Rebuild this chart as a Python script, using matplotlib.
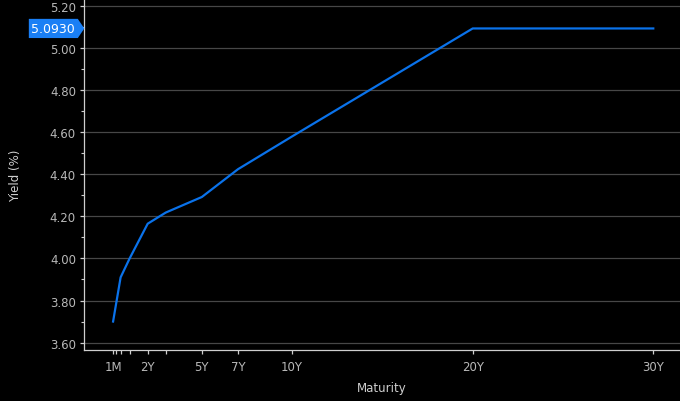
import numpy as np
import matplotlib
matplotlib.use("Agg")
import matplotlib.pyplot as plt
from matplotlib.patches import Polygon
from matplotlib.transforms import ScaledTranslation
from matplotlib.ticker import MultipleLocator, FormatStrFormatter

# yield curve points (maturity in years, yield in %)
maturities = [1 / 12, 0.5, 1, 2, 3, 5, 7, 10, 20, 30]
yields = [3.70, 3.91, 4.00, 4.165, 4.218, 4.292, 4.424, 4.58, 5.093, 5.093]

# x axis tenor ticks and their labels
tick_years = [1 / 12, 0.25, 0.5, 1, 2, 3, 5, 7, 10, 20, 30]
tick_names = ["1M", "", "", "", "2Y", "", "5Y", "7Y", "10Y", "20Y", "30Y"]

last_label = "5.0930"

LINE = "#0a72ea"
FLAG = "#1a7ff5"
TXT = "#b8b8b8"
AXC = "#cfcfcf"

fig = plt.figure(figsize=(6.8, 4.02), dpi=100, facecolor="black")
ax = fig.add_axes([0.124, 0.127, 0.876, 0.873])
ax.set_facecolor("black")

ax.plot(maturities, yields, color=LINE, linewidth=1.6, zorder=3)

ax.set_xlim(-1.51, 31.48)
ax.set_ylim(3.565, 5.233)

ax.set_xticks(tick_years)
ax.set_xticklabels(tick_names)
ax.yaxis.set_major_locator(MultipleLocator(0.2))
ax.yaxis.set_minor_locator(MultipleLocator(0.1))
ax.yaxis.set_major_formatter(FormatStrFormatter("%.2f"))

ax.grid(axis="y", which="major", color="#474747", linewidth=0.9)
ax.set_axisbelow(True)

for s in ["top", "right"]:
    ax.spines[s].set_visible(False)
for s in ["left", "bottom"]:
    ax.spines[s].set_color(AXC)
    ax.spines[s].set_linewidth(0.9)

ax.tick_params(axis="both", which="major", colors=AXC, labelcolor=TXT,
               labelsize=8.5, length=3, width=0.9)
ax.tick_params(axis="y", which="major", pad=3)
ax.tick_params(axis="x", which="major", pad=4)
ax.tick_params(axis="y", which="minor", colors=AXC, length=2.5, width=0.8)

ax.set_xlabel("Maturity", color=AXC, fontsize=8.5, labelpad=6)
ax.set_ylabel("Yield (%)", color=AXC, fontsize=8.5, labelpad=20)

# last value flag on the y axis
anchor = fig.dpi_scale_trans + ScaledTranslation(0, yields[-1], ax.get_yaxis_transform())
flag = Polygon([(0, 0), (-0.065, 0.096), (-0.555, 0.096), (-0.555, -0.096), (-0.065, -0.096)],
               closed=True, facecolor=FLAG, edgecolor="none",
               transform=anchor, clip_on=False, zorder=10)
ax.add_patch(flag)
ax.text(-0.31, -0.005, last_label, transform=anchor, color="white", fontsize=9,
        ha="center", va="center", zorder=11, clip_on=False)

fig.savefig("out.png", dpi=100, facecolor="black")
